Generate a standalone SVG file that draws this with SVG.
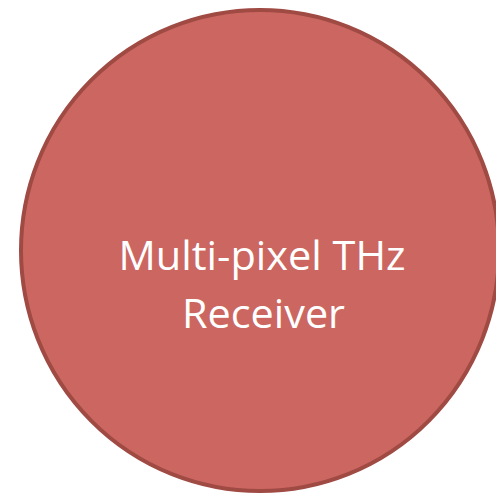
<svg xmlns="http://www.w3.org/2000/svg" width="496" height="494" viewBox="0 0 496 494">
<style>
.node{fill:#cc6660;stroke:#a04a44;stroke-width:4}
.lbl{fill:#ffffff;font-family:"Open Sans","Liberation Sans",sans-serif;font-size:40px;text-anchor:middle}
</style>
<rect width="496" height="494" fill="#ffffff"/>
<g id="receiver">
<ellipse class="node" cx="260" cy="250.5" rx="239" ry="240.5"/>
<text class="lbl" x="262" y="270" textLength="287" lengthAdjust="spacingAndGlyphs">Multi-pixel THz</text>
<text class="lbl" x="263.5" y="328" textLength="163" lengthAdjust="spacingAndGlyphs">Receiver</text>
</g>
<g id="connectors"/>
</svg>
